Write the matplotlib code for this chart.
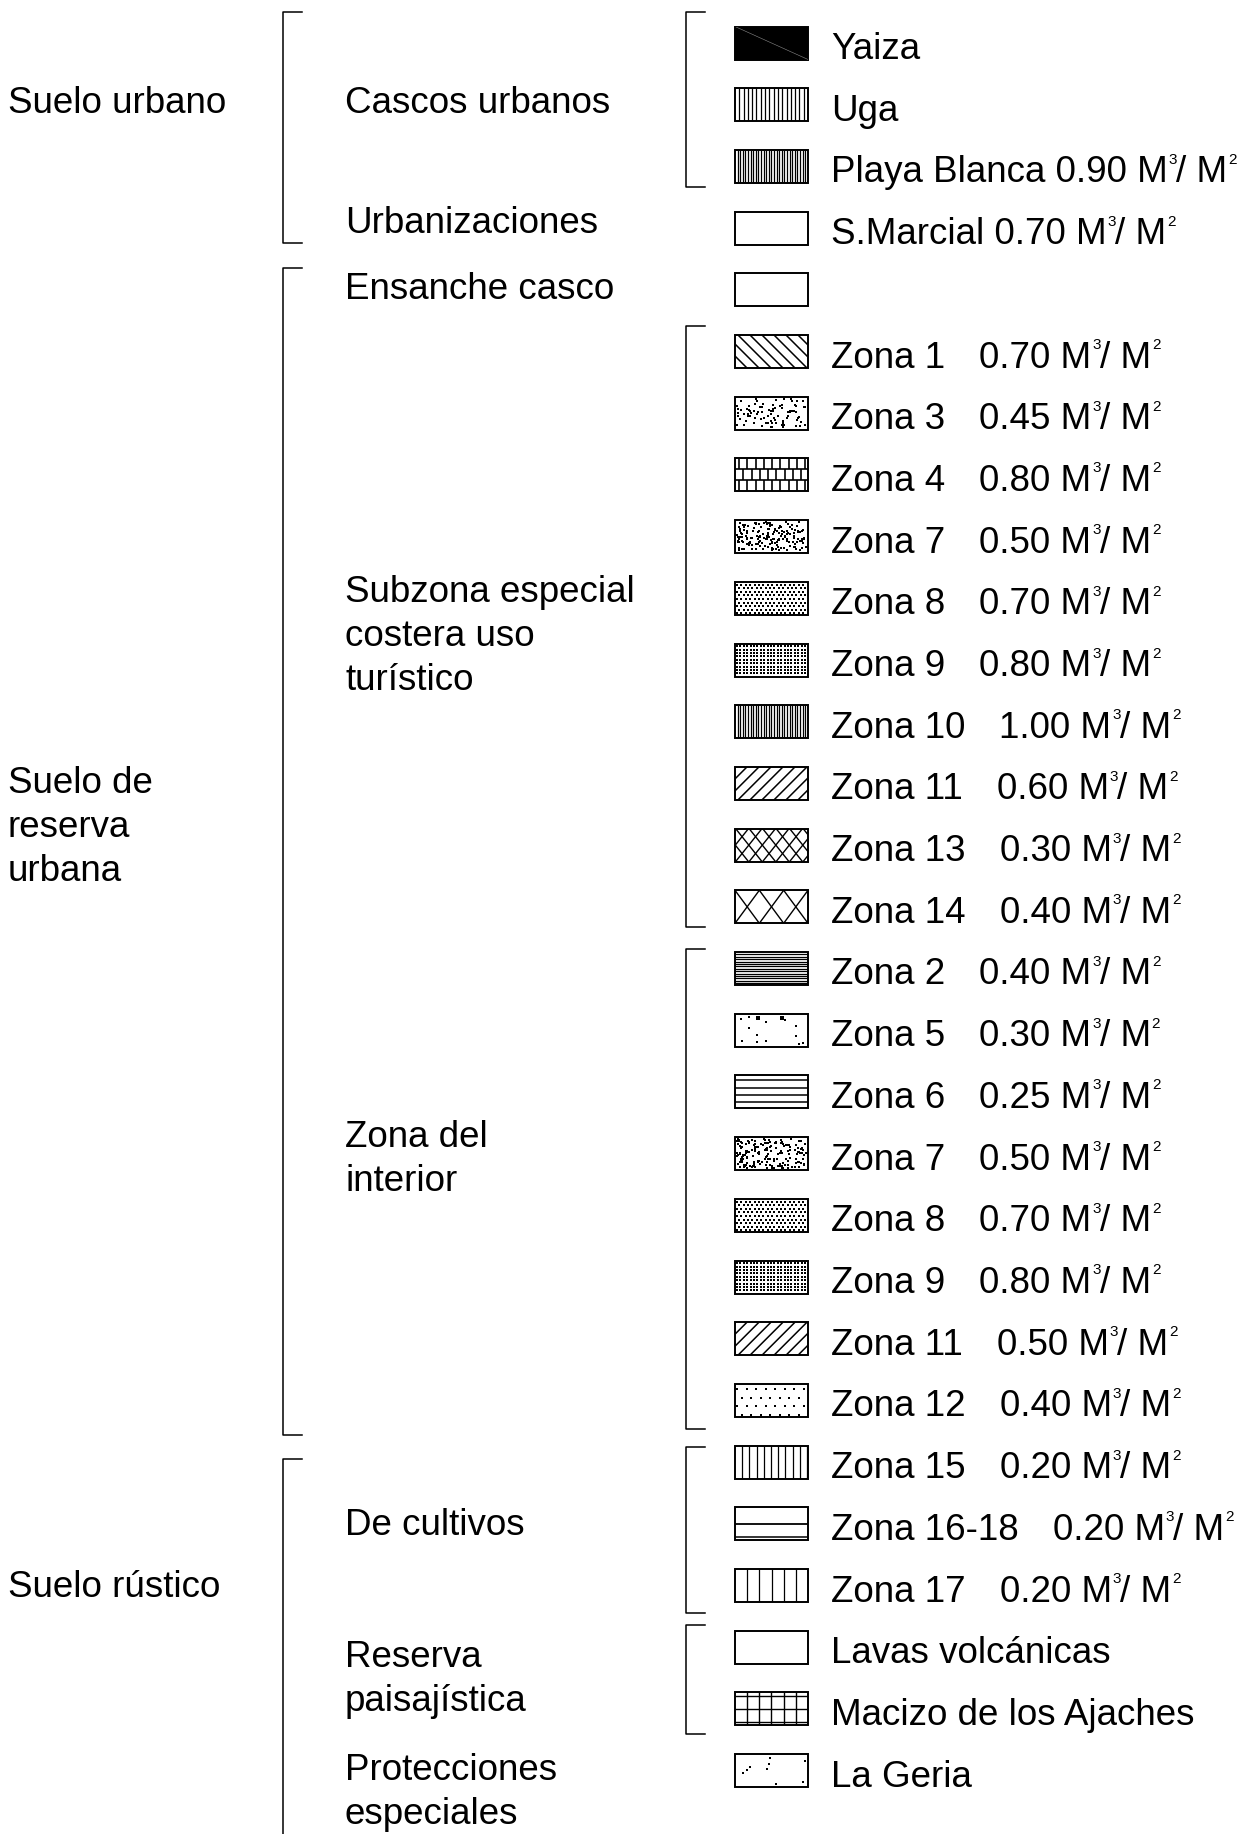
import numpy as np
import matplotlib.pyplot as plt
from matplotlib.patches import Rectangle

plt.rcParams['font.family'] = ['Liberation Sans', 'DejaVu Sans']

## datos de la leyenda
grupos = ['Suelo urbano', 'Suelo de\nreserva\nurbana', 'Suelo rústico']
subgrupos = ['Cascos urbanos', 'Urbanizaciones', 'Ensanche casco',
             'Subzona especial\ncostera uso\nturístico', 'Zona del\ninterior',
             'De cultivos', 'Reserva\npaisajística', 'Protecciones\nespeciales']
zonas = ['Yaiza', 'Uga', 'Playa Blanca', 'S.Marcial', '',
         'Zona 1', 'Zona 3', 'Zona 4', 'Zona 7', 'Zona 8', 'Zona 9', 'Zona 10',
         'Zona 11', 'Zona 13', 'Zona 14',
         'Zona 2', 'Zona 5', 'Zona 6', 'Zona 7', 'Zona 8', 'Zona 9', 'Zona 11', 'Zona 12',
         'Zona 15', 'Zona 16-18', 'Zona 17',
         'Lavas volcánicas', 'Macizo de los Ajaches', 'La Geria']
edificabilidad = [None, None, '0.90', '0.70', None,
                  '0.70', '0.45', '0.80', '0.50', '0.70', '0.80', '1.00',
                  '0.60', '0.30', '0.40',
                  '0.40', '0.30', '0.25', '0.50', '0.70', '0.80', '0.50', '0.40',
                  '0.20', '0.20', '0.20',
                  None, None, None]
tramas = ['negro', 'v4', 'v2', 'vacio', 'vacio',
          'diag_inv', 'motas', 'ladrillo', 'motas_densas', 'puntos', 'puntos_finos', 'v2',
          'diag', 'cruz', 'cruz_ancha',
          'h2', 'motas_ralas', 'h8', 'motas_densas', 'puntos', 'puntos_finos', 'diag', 'puntos_ralos',
          'v7', 'h_doble', 'v12',
          'vacio', 'reticula', 'geria']

## maquetacion (pixeles)
W, H = 1251, 1834
FS = 26.5
y0_fila, paso = 43, 61.7
x_caja, w_caja, h_caja = 735, 73, 33
x_txt = 831
y_grupos = [113, 793, 1597]
y_subgrupos = [113, 233, 299, 602, 1147, 1535, 1667, 1780]
corchetes1 = [(12, 243), (268, 1435), (1459, None)]
corchetes2 = [(12, 187), (326, 927), (949, 1429), (1447, 1613), (1625, 1734)]

fig = plt.figure(figsize=(W / 100, H / 100), dpi=100)
ax = fig.add_axes([0, 0, 1, 1])
ax.set_xlim(0, W)
ax.set_ylim(H, 0)
ax.axis('off')


def mezcla(k):
    # hash entero determinista (textura de motas)
    h = (k * np.uint64(2654435761)) % np.uint64(2 ** 32)
    h ^= h >> np.uint64(16)
    h = (h * np.uint64(0x45d9f3b)) % np.uint64(2 ** 32)
    h ^= h >> np.uint64(16)
    return h.astype(float) / 2 ** 32


def ruido(n, semilla):
    k = np.arange(n, dtype=np.uint64) + np.uint64(semilla * 1000 + 1)
    return mezcla(k), mezcla(k + np.uint64(500000))


def trama(x0, y0, w, h, tipo, semilla=0):
    fondo = Rectangle((x0, y0), w, h, facecolor='black' if tipo == 'negro' else 'white',
                      edgecolor='none')
    ax.add_patch(fondo)
    lin = []
    pts = []
    if tipo == 'negro':
        lin.append(([x0, x0 + w], [y0, y0 + h], '#8a8a8a', 0.4))
    elif tipo[0] == 'v' and tipo[1:].isdigit():
        s = {'v2': 2.6, 'v4': 4.3, 'v7': 7.2, 'v12': 12.2}[tipo]
        for xx in np.arange(x0 + s, x0 + w, s):
            lin.append(([xx, xx], [y0, y0 + h], 'black', 0.9))
    elif tipo == 'h2':
        for yy in np.arange(y0 + 2.4, y0 + h, 2.4):
            lin.append(([x0, x0 + w], [yy, yy], 'black', 0.9))
    elif tipo == 'h8':
        for f in [0.13, 0.37, 0.59, 0.81]:
            lin.append(([x0, x0 + w], [y0 + f * h, y0 + f * h], 'black', 1.1))
    elif tipo == 'h_doble':
        lin.append(([x0, x0 + w], [y0 + h / 2, y0 + h / 2], 'black', 1.3))
        lin.append(([x0, x0 + w], [y0 + h - 3, y0 + h - 3], 'black', 1.1))
    elif tipo == 'diag_inv':
        for xx in np.arange(x0 - h, x0 + w + h, 12):
            lin.append(([xx, xx + h], [y0, y0 + h], 'black', 1.1))
    elif tipo == 'diag':
        for xx in np.arange(x0 - h, x0 + w + h, 12):
            lin.append(([xx, xx + h], [y0 + h, y0], 'black', 1.1))
    elif tipo == 'cruz':
        d = h * 0.8
        for xx in np.arange(x0 - d, x0 + w + d, 13.5):
            lin.append(([xx, xx + d], [y0, y0 + h], 'black', 1.0))
            lin.append(([xx, xx + d], [y0 + h, y0], 'black', 1.0))
    elif tipo == 'cruz_ancha':
        c = w / 3
        for xx in np.arange(x0, x0 + w - 1, c):
            lin.append(([xx, xx + c], [y0, y0 + h], 'black', 1.0))
            lin.append(([xx, xx + c], [y0 + h, y0], 'black', 1.0))
    elif tipo == 'ladrillo':
        for yy in [y0 + h / 3, y0 + 2 * h / 3]:
            lin.append(([x0, x0 + w], [yy, yy], 'black', 1.2))
        for j, (ya, yb) in enumerate([(y0, y0 + h / 3), (y0 + h / 3, y0 + 2 * h / 3),
                                      (y0 + 2 * h / 3, y0 + h)]):
            for xx in np.arange(x0 + 4 + (j % 2) * 4.2, x0 + w, 8.3):
                lin.append(([xx, xx], [ya, yb], 'black', 1.2))
    elif tipo == 'reticula':
        for xx in np.arange(x0 + 12, x0 + w, 12.2):
            lin.append(([xx, xx], [y0, y0 + h], 'black', 1.0))
        for yy in [y0 + 3.3, y0 + h / 2, y0 + h - 3]:
            lin.append(([x0, x0 + w], [yy, yy], 'black', 1.0))
    elif tipo in ('puntos', 'puntos_finos', 'puntos_ralos'):
        sx, sy, tam = {'puntos': (4.4, 3.6, 1.0), 'puntos_finos': (3.4, 3.4, 0.7),
                       'puntos_ralos': (9.5, 8.5, 1.3)}[tipo]
        for j, yy in enumerate(np.arange(y0 + sy / 2 + 1, y0 + h - 1, sy)):
            off = (j % 2) * sx / 2 if tipo != 'puntos_finos' else 0
            xs = np.arange(x0 + 2 + off, x0 + w - 1, sx)
            pts.append((xs, np.full_like(xs, yy), tam))
    elif tipo in ('motas', 'motas_densas', 'motas_ralas', 'geria'):
        n, tam = {'motas': (85, 1.8), 'motas_densas': (170, 2.0),
                  'motas_ralas': (15, 2.4), 'geria': (9, 2.0)}[tipo]
        u, v = ruido(n, semilla)
        pts.append((x0 + 2 + u * (w - 4), y0 + 2 + v * (h - 4), tam))
        if tipo == 'motas_ralas':
            pts.append(([x0 + 0.31 * w, x0 + 0.65 * w], [y0 + 4, y0 + 4], 9))
    for xs, ys, c, lw in lin:
        ln, = ax.plot(xs, ys, color=c, lw=lw, solid_capstyle='butt')
        ln.set_clip_path(fondo)
    for xs, ys, tam in pts:
        sc = ax.scatter(xs, ys, s=tam, c='black', marker='s', linewidths=0)
        sc.set_clip_path(fondo)
    ax.add_patch(Rectangle((x0, y0), w, h, fill=False, edgecolor='black', lw=1.4))


def corchete(x, ya, yb, tick=19):
    if yb is None:
        ax.plot([x + tick, x, x], [ya, ya, H + 5], color='black', lw=1.1)
    else:
        ax.plot([x + tick, x, x, x + tick], [ya, ya, yb, yb], color='black', lw=1.1)


def multilinea(x, yb, s):
    for k, linea in enumerate(s.split('\n')):
        ax.text(x, yb + k * 44, linea, fontsize=FS, va='baseline', ha='left')


fig.canvas.draw()
rend = fig.canvas.get_renderer()


def fin_x(t):
    bb = t.get_window_extent(rend)
    return ax.transData.inverted().transform((bb.x1, bb.y0))[0]


def etiqueta(x, yb, nombre, valor):
    if valor is None:
        ax.text(x, yb, nombre, fontsize=FS, va='baseline')
        return
    if nombre.startswith('Zona'):
        t = ax.text(x, yb, nombre, fontsize=FS, va='baseline')
        x = fin_x(t) + 34
        piezas = [(valor + ' M', 0), ('3', 1), ('/ M', 0), ('2', 1)]
    else:
        piezas = [(nombre + ' ' + valor + ' M', 0), ('3', 1), ('/ M', 0), ('2', 1)]
    for s, sup in piezas:
        if sup:
            t = ax.text(x + 1, yb - 18.5, s, fontsize=11, va='baseline')
            x = fin_x(t) - 1
        else:
            t = ax.text(x, yb, s, fontsize=FS, va='baseline')
            x = fin_x(t)


for g, yb in zip(grupos, y_grupos):
    multilinea(8, yb, g)
for sg, yb in zip(subgrupos, y_subgrupos):
    multilinea(345, yb, sg)
for ya, yb in corchetes1:
    corchete(283, ya, yb)
for ya, yb in corchetes2:
    corchete(686, ya, yb)

for i, (nombre, valor, tipo) in enumerate(zip(zonas, edificabilidad, tramas)):
    yc = y0_fila + paso * i
    trama(x_caja, yc - h_caja / 2, w_caja, h_caja, tipo, semilla=i)
    if nombre:
        etiqueta(x_txt, yc + 16, nombre, valor)

fig.savefig('out.png', dpi=100)
